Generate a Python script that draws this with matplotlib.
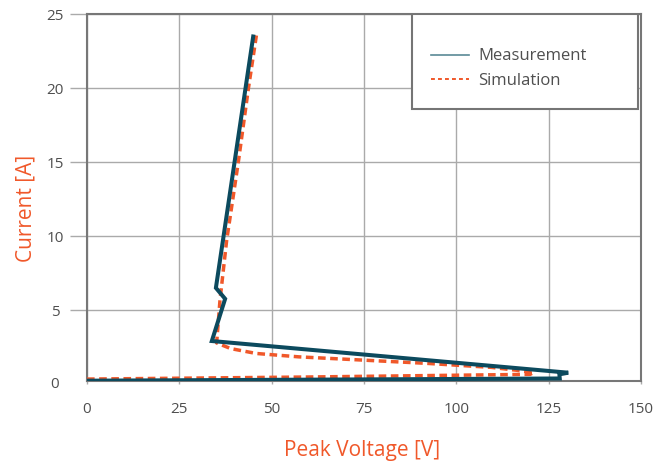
import numpy as np
import matplotlib.pyplot as plt
from matplotlib.lines import Line2D
from matplotlib.patches import Rectangle
import matplotlib.transforms as mtransforms

plt.rcParams['font.family'] = ['Open Sans', 'DejaVu Sans']

# measured curve (peak voltage V, current A)
meas_v = [0, 128, 127.9, 130.3, 33.8, 37.4, 34.9, 45.0]
meas_i = [0.25, 0.40, 0.68, 0.79, 2.93, 5.78, 6.52, 23.5]

# simulated curve
sim_v = [0, 60, 120, 121, 109.5, 92.1, 74.8, 57.4, 45.8, 38.9, 35.1, 36.0, 37.8, 41.0, 43.7, 46.0]
sim_i = [0.36, 0.50, 0.68, 0.82, 1.15, 1.42, 1.64, 1.86, 2.09, 2.42, 2.80, 5.67, 9.70, 15.07, 19.99, 23.8]

xticks = [0, 25, 50, 75, 100, 125, 150]
yticks = [5, 10, 15, 20, 25]

navy = '#0c4a5e'
orange = '#f0582a'
grey_txt = '#4f4f4f'

fig = plt.figure(figsize=(6.67, 4.61), dpi=100)
ax = fig.add_axes([87/667, (461-380.7)/461, 554/667, 366.4/461])

ax.plot(sim_v, sim_i, color=orange, lw=2.5, dashes=(2.2, 1.3), zorder=3)
ax.plot(meas_v, meas_i, color=navy, lw=2.9, zorder=4, solid_joinstyle='miter')

ax.set_xlim(0, 150)
ax.set_ylim(0.25, 25)
ax.set_xticks(xticks)
ax.set_yticks(yticks)
ax.grid(True, color='#aaaaaa', lw=1.0)
ax.set_axisbelow(True)

for s in ax.spines.values():
    s.set_color('#777777')
    s.set_linewidth(1.5)

ax.tick_params(axis='y', length=12, color='#aaaaaa', width=1.0, pad=10.8,
               labelsize=11, labelcolor=grey_txt)
ax.tick_params(axis='x', length=2, color='#aaaaaa', width=1.0, pad=13,
               labelsize=11, labelcolor=grey_txt)
plt.setp(ax.get_yticklabels(), ha='center')

# zero label of the y axis sits just under the spine
trans = mtransforms.blended_transform_factory(ax.transAxes, ax.transData)
ax.text(-0.0578, 0, '0', transform=trans, ha='center', va='center',
        fontsize=11, color=grey_txt, clip_on=False)

ax.set_xlabel('Peak Voltage [V]', fontsize=15, color=orange)
ax.set_ylabel('Current [A]', fontsize=15, color=orange)
ax.xaxis.set_label_coords(0.496, -0.162)
ax.yaxis.set_label_coords(-0.092, 0.469)

box = Rectangle((0.5866, 0.7415), 0.408, 0.2585, transform=ax.transAxes,
                facecolor='white', edgecolor='#757575', lw=1.5, zorder=5)
ax.add_patch(box)

handles = [Line2D([], [], color='#5a8a96', lw=1.2),
           Line2D([], [], color=orange, lw=1.4, dashes=(2, 1.6))]
leg = ax.legend(handles, ['Measurement', 'Simulation'], loc='upper left',
                bbox_to_anchor=(0.621, 0.907), frameon=False, borderpad=0,
                borderaxespad=0, handlelength=2.3, handletextpad=0.55,
                labelspacing=0.5, fontsize=12)
for t in leg.get_texts():
    t.set_color(grey_txt)
leg.set_zorder(6)

fig.savefig('out.png', dpi=100)
